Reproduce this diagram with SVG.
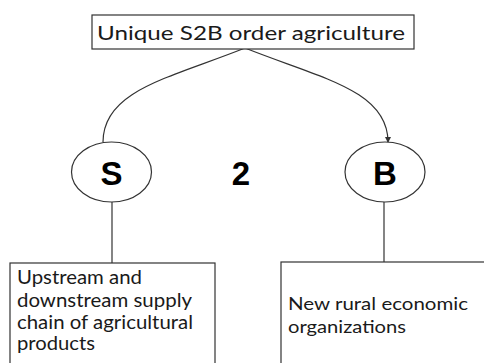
<svg xmlns="http://www.w3.org/2000/svg" width="484" height="363" viewBox="0 0 484 363">
<style>
.box{fill:#fff;stroke:#333;stroke-width:1.2}
.ell{fill:#fff;stroke:#333;stroke-width:1.2}
.t{font-family:Lato,"Liberation Sans",Arial,sans-serif;fill:#1a1a1a}
.big{font-family:"Liberation Sans",Arial,sans-serif;font-weight:bold;font-size:33px;fill:#000}
.c{fill:none;stroke:#333;stroke-width:1.2}
</style>
<defs>
<marker id="ah" viewBox="0 0 6 6" refX="5" refY="3" markerWidth="6" markerHeight="6" orient="auto" markerUnits="userSpaceOnUse">
<path d="M0,0 L6,3 L0,6 z" fill="#333"/>
</marker>
</defs>
<rect width="484" height="363" fill="#fff"/>
<g id="connectors">
<path class="c" d="M245,48 C170,78 103,90 103,142"/>
<path class="c" d="M245,48 C320,78 388,90 388,142" marker-end="url(#ah)"/>
<line class="c" x1="112" y1="202" x2="112" y2="263"/>
<line class="c" x1="384" y1="202" x2="384" y2="262"/>
</g>
<g id="top">
<rect class="box" x="92" y="15" width="322" height="34"/>
<text class="t" x="97" y="39.5" font-size="19.5" textLength="308" lengthAdjust="spacingAndGlyphs">Unique S2B order agriculture</text>
</g>
<g id="S">
<ellipse class="ell" cx="111.5" cy="172" rx="40" ry="30"/>
<text class="big" x="111.5" y="185" text-anchor="middle">S</text>
</g>
<g id="two">
<text class="big" x="241" y="185" text-anchor="middle">2</text>
</g>
<g id="B">
<ellipse class="ell" cx="385" cy="172" rx="40" ry="30"/>
<text class="big" x="385" y="185" text-anchor="middle">B</text>
</g>
<g id="left">
<rect class="box" x="10" y="263" width="205" height="110"/>
<text class="t" font-size="18.5"><tspan x="17" y="284" textLength="125" lengthAdjust="spacingAndGlyphs">Upstream and</tspan><tspan x="17" y="306.5" textLength="175" lengthAdjust="spacingAndGlyphs">downstream supply</tspan><tspan x="17" y="328.5" textLength="176" lengthAdjust="spacingAndGlyphs">chain of agricultural</tspan><tspan x="17" y="350" textLength="78" lengthAdjust="spacingAndGlyphs">products</tspan></text>
</g>
<g id="right">
<rect class="box" x="281" y="262" width="210" height="112"/>
<text class="t" font-size="18"><tspan x="288" y="310" textLength="180" lengthAdjust="spacingAndGlyphs">New rural economic</tspan><tspan x="288" y="333" textLength="118" lengthAdjust="spacingAndGlyphs">organizations</tspan></text>
</g>
</svg>
